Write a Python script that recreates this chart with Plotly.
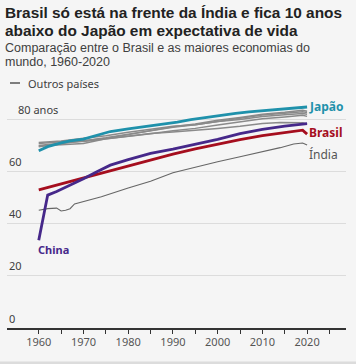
import plotly.graph_objects as go

# ---------------- data ----------------
japan_years = [1960, 1962, 1965, 1967, 1970, 1973, 1976, 1980, 1984, 1988, 1991, 1994, 1998, 2001, 2004, 2007, 2010, 2013, 2016, 2020]
japan_vals = [68.0, 69.6, 71.0, 71.8, 72.5, 74.0, 75.4, 76.4, 77.3, 78.3, 79.0, 80.0, 81.0, 81.7, 82.4, 82.9, 83.3, 83.7, 84.2, 84.8]

brazil_years = [1960, 1965, 1970, 1975, 1980, 1985, 1990, 1995, 2000, 2005, 2010, 2015, 2019, 2020]
brazil_vals = [53.0, 55.3, 57.5, 59.7, 62.1, 64.5, 66.7, 68.7, 70.6, 72.3, 73.8, 75.0, 75.9, 74.4]

china_years = [1960, 1962, 1964, 1967, 1970, 1973, 1976, 1980, 1985, 1990, 1995, 2000, 2005, 2010, 2015, 2020]
china_vals = [33.7, 51.0, 52.4, 54.8, 57.3, 60.0, 62.5, 64.6, 67.0, 68.6, 70.4, 72.4, 74.6, 76.2, 77.5, 78.4]

india_years = [1960, 1962, 1964, 1965, 1966, 1967, 1968, 1970, 1974, 1980, 1985, 1990, 1995, 2000, 2005, 2010, 2014, 2017, 2019, 2020]
india_vals = [45.2, 45.8, 46.0, 44.9, 45.2, 45.8, 47.6, 48.5, 50.4, 53.7, 56.3, 59.6, 61.8, 63.8, 65.7, 67.6, 69.2, 70.6, 71.0, 70.2]

other_years = [1960, 1965, 1970, 1975, 1980, 1985, 1990, 1995, 2000, 2005, 2010, 2015, 2019, 2020]
other_a = [69.5, 70.8, 71.8, 72.8, 74.2, 75.8, 77.2, 78.3, 79.7, 80.8, 82.0, 82.8, 83.6, 83.2]
other_b = [70.0, 70.9, 71.9, 73.0, 74.3, 75.5, 77.0, 78.0, 79.2, 80.3, 81.7, 82.4, 83.0, 82.7]
other_c = [71.2, 71.8, 72.8, 73.8, 75.1, 76.3, 77.4, 78.0, 79.2, 80.0, 81.2, 81.8, 82.3, 82.0]
other_d = [70.8, 71.5, 71.6, 72.5, 73.4, 74.5, 75.7, 76.6, 77.9, 79.0, 80.3, 81.0, 81.6, 81.2]
us_years = [1960, 1965, 1970, 1975, 1980, 1985, 1990, 1995, 2000, 2005, 2010, 2014, 2017, 2019, 2020]
us_vals = [69.8, 70.2, 70.8, 72.6, 73.6, 74.6, 75.2, 75.8, 76.6, 77.4, 78.5, 78.9, 78.7, 78.8, 78.3]

x_tickvals = list(range(1960, 2026, 5))
x_ticktext = [str(v) if v % 10 == 0 else "" for v in x_tickvals]
y_gridvals = [20, 40, 60, 80]
y_labels = ["0", "20", "40", "60", "80 anos"]
y_labelvals = [0, 20, 40, 60, 80]

title_lines = ["Brasil só está na frente da Índia e fica 10 anos",
               "abaixo do Japão em expectativa de vida"]
subtitle_lines = ["Comparação entre o Brasil e as maiores economias do",
                  "mundo, 1960-2020"]
legend_text = "Outros países"

# ---------------- styles ----------------
FONT = "Noto Sans"
HFONT = "Liberation Sans"
BG = "#f5f5f5"
C_JAPAN = "#1f91ab"
C_BRAZIL = "#a50e1e"
C_CHINA = "#46288a"
C_INDIA = "#666666"
C_OTHER = "#8a8a8a"

W, H = 356, 364
ML, MR, MT, MB = 7, 10, 100, 36
PH = H - MT - MB  # plot height px
PW = W - ML - MR

fig = go.Figure()

for vals, yrs in [(other_a, other_years), (other_b, other_years), (other_c, other_years),
                  (other_d, other_years), (us_vals, us_years)]:
    fig.add_trace(go.Scatter(x=yrs, y=vals, mode="lines",
                             line=dict(color=C_OTHER, width=1.5), hoverinfo="skip"))

fig.add_trace(go.Scatter(x=india_years, y=india_vals, mode="lines",
                         line=dict(color=C_INDIA, width=1.1), hoverinfo="skip"))
fig.add_trace(go.Scatter(x=brazil_years, y=brazil_vals, mode="lines",
                         line=dict(color=C_BRAZIL, width=2.8), hoverinfo="skip"))
fig.add_trace(go.Scatter(x=china_years, y=china_vals, mode="lines",
                         line=dict(color=C_CHINA, width=2.8), hoverinfo="skip"))
fig.add_trace(go.Scatter(x=japan_years, y=japan_vals, mode="lines",
                         line=dict(color=C_JAPAN, width=2.8), hoverinfo="skip"))

annotations = []

def px_top(ypx):
    return MT - ypx

for txt, ypx in zip(title_lines, [12.6, 30.2]):
    annotations.append(dict(text=f"<b>{txt}</b>", xref="paper", yref="paper", x=0, y=1,
                            xanchor="left", yanchor="middle", xshift=-4, yshift=px_top(ypx),
                            showarrow=False, font=dict(family=HFONT, size=15.4, color="#222222")))
for txt, ypx in zip(subtitle_lines, [48, 62.1]):
    annotations.append(dict(text=txt, xref="paper", yref="paper", x=0, y=1,
                            xanchor="left", yanchor="middle", xshift=-4, yshift=px_top(ypx),
                            showarrow=False, font=dict(family=HFONT, size=12.5, color="#404040")))
annotations.append(dict(text=legend_text, xref="paper", yref="paper", x=0, y=1,
                        xanchor="left", yanchor="middle", xshift=19, yshift=px_top(83),
                        showarrow=False, font=dict(family=FONT, size=11, color="#404040")))

for v, t in zip(y_labelvals, y_labels):
    annotations.append(dict(text=t, xref="paper", yref="y", x=0, y=v,
                            xanchor="left", yanchor="middle", xshift=9 if v == 80 else 0, yshift=10,
                            showarrow=False, font=dict(family=FONT, size=11, color="#404040")))

annotations.append(dict(text="<b>Japão</b>", xref="x", yref="y", x=japan_years[-1], y=japan_vals[-1],
                        xanchor="left", yanchor="middle", xshift=0, yshift=1, showarrow=False,
                        font=dict(family=FONT, size=12, color=C_JAPAN)))
annotations.append(dict(text="<b>Brasil</b>", xref="x", yref="y", x=brazil_years[-1], y=brazil_vals[-1],
                        xanchor="left", yanchor="middle", xshift=0, yshift=2, showarrow=False,
                        font=dict(family=FONT, size=12, color=C_BRAZIL)))
annotations.append(dict(text="Índia", xref="x", yref="y", x=india_years[-1], y=india_vals[-1],
                        xanchor="left", yanchor="middle", xshift=0, yshift=-9, showarrow=False,
                        font=dict(family=FONT, size=12, color="#555555")))
annotations.append(dict(text="<b>China</b>", xref="x", yref="y", x=china_years[0], y=china_vals[0],
                        xanchor="left", yanchor="middle", xshift=-3, yshift=-9, showarrow=False,
                        font=dict(family=FONT, size=11, color=C_CHINA)))

shapes = [
    dict(type="line", xref="paper", yref="paper",
         x0=(10 - ML) / PW, x1=(20 - ML) / PW,
         y0=1 + (MT - 83) / PH, y1=1 + (MT - 83) / PH,
         line=dict(color="#555555", width=1.5)),
    dict(type="rect", xref="paper", yref="paper",
         x0=-ML / PW, x1=(W - ML) / PW,
         y0=(MT + PH - 361.5) / PH, y1=(MT + PH - 366) / PH,
         fillcolor="#dcdcdc", line=dict(width=0), layer="below"),
]

fig.update_layout(
    width=W, height=H,
    margin=dict(l=ML, r=MR, t=MT, b=MB, pad=0),
    paper_bgcolor=BG, plot_bgcolor=BG,
    showlegend=False,
    annotations=annotations,
    shapes=shapes,
    font=dict(family=FONT),
    xaxis=dict(range=[1952.9, 2028.7], tickmode="array", tickvals=x_tickvals, ticktext=x_ticktext,
               showgrid=False, zeroline=False, showline=True, linecolor="#333333", linewidth=1.5,
               ticks="outside", ticklen=4, tickcolor="#333333", tickwidth=1,
               ticklabelstandoff=-1,
               tickfont=dict(family=FONT, size=11, color="#555555"), fixedrange=True),
    yaxis=dict(range=[0, PH / 2.606], tickmode="array", tickvals=y_gridvals, showticklabels=False,
               showgrid=True, gridcolor="#dcdcdc", gridwidth=1, zeroline=False, showline=False,
               fixedrange=True),
)

fig.write_html("out.html", config={"displayModeBar": False},
               post_script="document.body.style.margin='0';document.body.style.overflow='hidden';")
